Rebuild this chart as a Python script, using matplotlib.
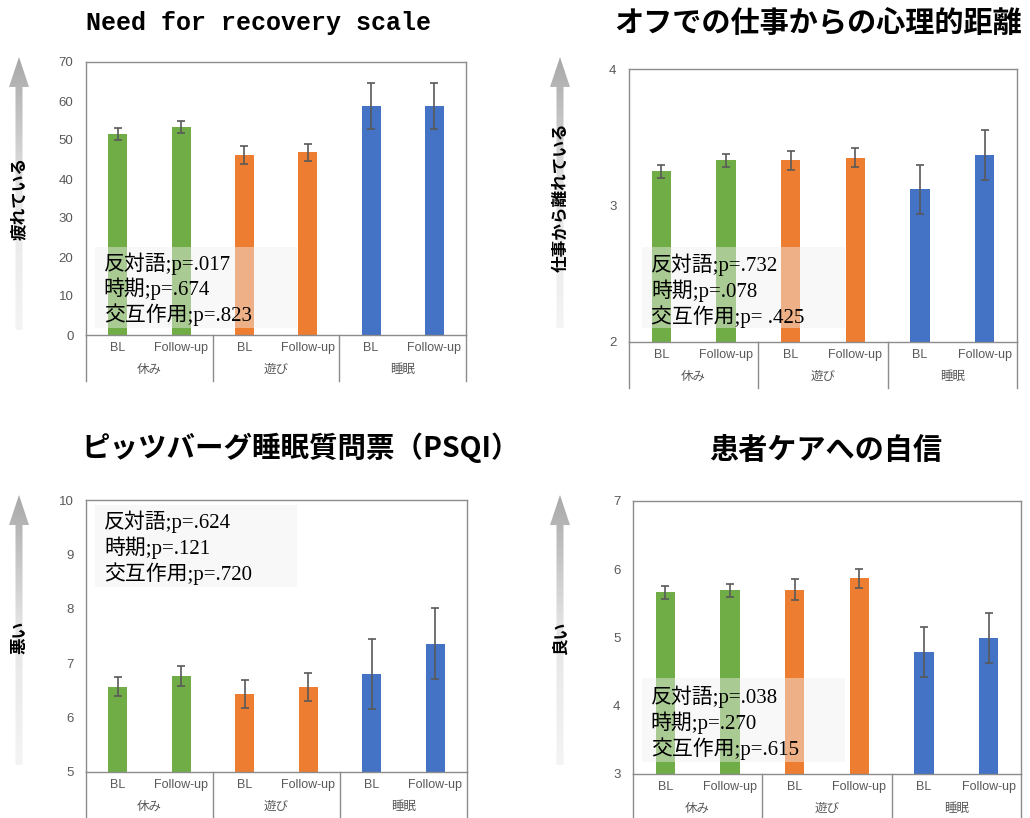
import matplotlib
matplotlib.use("Agg")
import matplotlib.pyplot as plt
import numpy as np
from matplotlib.colors import LinearSegmentedColormap
from matplotlib.patches import Polygon, Rectangle
from matplotlib.transforms import blended_transform_factory

W, H = 1030, 818  # figure size in pixels (dpi 100)

# --- data -----------------------------------------------------------------
activities = ["休み", "遊び", "睡眠"]
timepoints = ["BL", "Follow-up"]
bar_colors = ["#70AD47", "#70AD47", "#ED7D31", "#ED7D31", "#4472C4", "#4472C4"]

nfr_means = [51.5, 53.4, 46.2, 46.8, 58.8, 58.7]
nfr_err = [1.6, 1.6, 2.3, 2.3, 5.9, 5.9]

detach_means = [3.25, 3.33, 3.33, 3.35, 3.12, 3.37]
detach_err = [0.05, 0.05, 0.07, 0.07, 0.18, 0.18]

psqi_means = [6.57, 6.76, 6.43, 6.56, 6.80, 7.36]
psqi_err = [0.18, 0.18, 0.26, 0.26, 0.65, 0.65]

conf_means = [5.66, 5.69, 5.70, 5.87, 4.79, 4.99]
conf_err = [0.10, 0.10, 0.15, 0.14, 0.37, 0.37]

nfr_p = ["反対語;p=.017", "時期;p=.674", "交互作用;p=.823"]
detach_p = ["反対語;p=.732", "時期;p=.078", "交互作用;p= .425"]
psqi_p = ["反対語;p=.624", "時期;p=.121", "交互作用;p=.720"]
conf_p = ["反対語;p=.038", "時期;p=.270", "交互作用;p=.615"]

nfr_ticks = [0, 10, 20, 30, 40, 50, 60, 70]
detach_ticks = [2, 3, 4]
psqi_ticks = [5, 6, 7, 8, 9, 10]
conf_ticks = [3, 4, 5, 6, 7]

JP = "Noto Sans CJK JP"
SERIF_JP = ["Liberation Serif", JP]
NARROW = ["Liberation Sans Narrow", "Liberation Sans", JP]
GRAY = "#595959"


def px_axes(fig, left, top, right, bottom):
    """Add axes given pixel edges measured from the top-left corner."""
    return fig.add_axes([left / W, 1 - bottom / H, (right - left) / W, (bottom - top) / H])


def draw_panel(fig, box, means, errs, ticks, ptext, pbox, ptext_pos):
    left, top, right, bottom = box
    ax = px_axes(fig, left, top, right, bottom)
    x = np.arange(len(means))
    ax.bar(x, means, width=0.3, color=bar_colors, zorder=2)
    ax.errorbar(x, means, yerr=errs, fmt="none", ecolor=GRAY, elinewidth=1.2,
                capsize=3, capthick=1.2, zorder=3)
    ax.set_xlim(-0.5, len(means) - 0.5)
    ax.set_ylim(ticks[0], ticks[-1])
    ax.set_yticks(ticks)
    ax.set_yticklabels([str(t) for t in ticks], fontfamily="Liberation Sans", fontsize=9.5, color=GRAY)
    ax.tick_params(axis="y", length=0, pad=9)
    ax.set_xticks([])
    for sp in ax.spines.values():
        sp.set_color("#8c8c8c")
        sp.set_linewidth(1)

    # two-level category axis
    h_px = bottom - top
    trans = blended_transform_factory(ax.transData, ax.transAxes)
    for i, lab in enumerate(timepoints * len(activities)):
        ax.text(i, -13 / h_px, lab, transform=trans, ha="center", va="center",
                fontsize=9, color=GRAY, family=NARROW)
    for g, act in enumerate(activities):
        ax.text(2 * g + 0.5, -35 / h_px, act, transform=trans, ha="center", va="center",
                fontsize=9, color=GRAY, family=NARROW)
    for xb in [-0.5, 1.5, 3.5, 5.5]:
        ax.plot([xb, xb], [0, -46 / h_px], transform=trans, color="#8c8c8c", lw=1, clip_on=False)

    # p-value annotation box
    bx0, by0, bx1, by1 = pbox
    ax.add_patch(Rectangle((bx0, by0), bx1 - bx0, by1 - by0, transform=ax.transAxes,
                           facecolor="#f0f0f0", edgecolor="none", alpha=0.45, zorder=4))
    ax.text(ptext_pos[0], ptext_pos[1], "\n".join(ptext), transform=ax.transAxes,
            ha="left", va="center", fontsize=15, linespacing=1.18, family=SERIF_JP, zorder=5)
    return ax


def add_arrow(fig, xc, ytop, ybot, label, ylab):
    w = 26
    ax = px_axes(fig, xc - w / 2, ytop, xc + w / 2, ybot)
    ax.set_axis_off()
    length = ybot - ytop
    ax.set_xlim(0, w)
    ax.set_ylim(0, length)
    grad = np.linspace(0, 1, 256).reshape(-1, 1)
    cmap = LinearSegmentedColormap.from_list("arrow", ["#f4f4f4", "#e6e6e6", "#a8a8a8"])
    im = ax.imshow(grad, extent=(0, w, 0, length), origin="lower", cmap=cmap, aspect="auto")
    c = w / 2
    head = 30
    verts = [(c - 3.5, 0), (c + 3.5, 0), (c + 3.5, length - head), (c + 10, length - head),
             (c, length), (c - 10, length - head), (c - 3.5, length - head)]
    poly = Polygon(verts, closed=True, facecolor="none", edgecolor="none")
    ax.add_patch(poly)
    im.set_clip_path(poly)
    fig.text(xc / W, 1 - ylab / H, label, rotation=90, ha="center", va="center",
             fontsize=12, fontweight="bold", family=JP, color="black")


fig = plt.figure(figsize=(W / 100, H / 100), dpi=100)

draw_panel(fig, (86, 62, 466, 335), nfr_means, nfr_err, nfr_ticks, nfr_p,
           (0.024, 0.026, 0.555, 0.322), (0.047, 0.168))
draw_panel(fig, (629, 69, 1017, 342), detach_means, detach_err, detach_ticks, detach_p,
           (0.034, 0.051, 0.557, 0.348), (0.057, 0.187))
draw_panel(fig, (86, 500, 467, 772), psqi_means, psqi_err, psqi_ticks, psqi_p,
           (0.024, 0.68, 0.554, 0.98), (0.047, 0.824))
draw_panel(fig, (633, 501, 1021, 774), conf_means, conf_err, conf_ticks, conf_p,
           (0.023, 0.044, 0.546, 0.352), (0.046, 0.187))

add_arrow(fig, 19, 57, 330, "疲れている", 198)
add_arrow(fig, 560, 57, 328, "仕事から離れている", 197)
add_arrow(fig, 19, 495, 765, "悪い", 637)
add_arrow(fig, 560, 495, 765, "良い", 637)

fig.text(259 / W, 1 - 23 / H, "Need for recovery scale", ha="center", va="center",
         fontsize=18, fontweight="bold", family="Liberation Mono")
fig.text(818 / W, 1 - 23 / H, "オフでの仕事からの心理的距離", ha="center", va="center",
         fontsize=21, fontweight="bold", family=JP)
fig.text(301 / W, 1 - 448 / H, "ピッツバーグ睡眠質問票（PSQI）", ha="center", va="center",
         fontsize=20.5, fontweight="bold", family=JP)
fig.text(826 / W, 1 - 450 / H, "患者ケアへの自信", ha="center", va="center",
         fontsize=21, fontweight="bold", family=JP)

fig.savefig("out.png", dpi=100)
